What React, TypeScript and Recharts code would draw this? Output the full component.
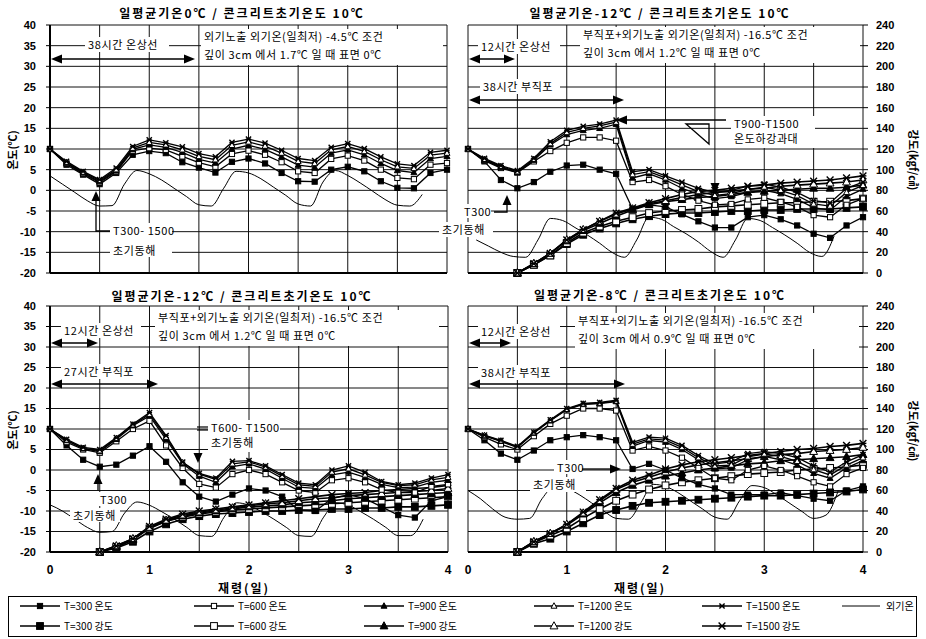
import React from 'react'
import { LineChart, Line, XAxis, YAxis, CartesianGrid } from 'recharts'

const FONT_KR = '"Noto Sans CJK KR", "Noto Sans", sans-serif'
const FONT_NUM = '"Liberation Sans", Arial, sans-serif'

// x positions (hours of age)
const HOURS = [0, 4, 8, 12, 16, 20, 24, 28, 32, 36, 40, 44, 48, 52, 56, 60, 64, 68, 72, 76, 80, 84, 88, 92, 96]
const STR_HOURS = [12, 16, 20, 24, 28, 32, 36, 40, 44, 48, 52, 56, 60, 64, 68, 72, 76, 80, 84, 88, 92, 96]
const AIR_HOURS = [0, 3, 6, 9, 12, 15, 18, 21, 24, 27, 30, 33, 36, 39, 42, 45, 48, 51, 54, 57, 60, 63, 66, 69, 72, 75, 78, 81, 84, 87, 90]
const AIR_HOURS_TR = [2, 5, 8, 11, 14, 17, 20, 23, 26, 29, 32, 35, 38, 41, 44, 47, 50, 53, 56, 59, 62, 65, 68, 71, 74, 77, 80, 83, 86, 89]

const DAY_TICKS = [0, 0.5, 1, 1.5, 2, 2.5, 3, 3.5, 4]
const TEMP_TICKS = [-20, -15, -10, -5, 0, 5, 10, 15, 20, 25, 30, 35, 40]
const STR_TICKS = [0, 20, 40, 60, 80, 100, 120, 140, 160, 180, 200, 220, 240]

// top-left: 일평균기온 0℃ (temperature, ℃)
const TL_T300 = [10, 6.2, 3.8, 1.5, 4.2, 8.6, 9.5, 9.0, 6.8, 5.5, 4.3, 6.9, 7.7, 6.5, 4.2, 2.2, 2.1, 5.0, 5.7, 4.6, 2.2, 0.6, 0.5, 4.2, 5.0]
const TL_T600 = [10, 6.5, 4.0, 1.9, 4.5, 9.6, 10.2, 9.8, 8.2, 6.7, 5.7, 8.8, 9.6, 8.6, 6.8, 4.6, 4.2, 7.6, 8.4, 7.2, 5.0, 3.0, 2.7, 6.2, 6.6]
const TL_T900 = [10, 6.6, 4.2, 2.1, 4.7, 9.9, 11.0, 10.4, 9.2, 7.5, 6.6, 10.0, 10.9, 9.9, 8.1, 6.1, 5.6, 9.0, 9.8, 8.6, 6.5, 4.8, 4.3, 7.7, 8.2]
const TL_T1200 = [10, 6.8, 4.4, 2.4, 5.0, 10.2, 11.6, 11.0, 9.8, 8.2, 7.4, 10.9, 11.7, 10.7, 9.0, 7.0, 6.5, 9.8, 10.6, 9.4, 7.4, 5.7, 5.3, 8.5, 9.0]
const TL_T1500 = [10, 7.0, 4.6, 2.6, 5.4, 10.6, 12.2, 11.5, 10.5, 8.9, 8.1, 11.6, 12.4, 11.4, 9.7, 7.7, 7.2, 10.4, 11.3, 10.1, 8.1, 6.4, 6.0, 9.2, 9.7]
const TL_AIR = [3.5, 1.5, -0.5, -2.5, -3.8, -3.7, 1.5, 4.8, 4.0, 2.5, 0.5, -1.5, -3.5, -3.8, 0.5, 4.6, 4.2, 2.8, 0.8, -1.2, -3.3, -3.8, 2.0, 4.8, 3.6, 1.8, -0.2, -2.2, -3.6, -3.8, -1.0]

// top-right: 일평균기온 -12℃
const TR_T300 = [10, 7.0, 2.5, 0.5, 2.0, 4.5, 6.0, 6.2, 5.0, 4.0, -4.5, -3.5, -4.0, -5.8, -7.5, -9.0, -9.0, -6.5, -6.0, -7.0, -8.5, -10.5, -11.5, -8.5, -6.5]
const TR_T600 = [10, 7.2, 5.4, 4.3, 7.0, 9.5, 11.5, 12.8, 12.8, 12.0, 2.0, 2.5, 1.0, -1.0, -2.5, -3.5, -3.3, -2.2, -1.8, -2.8, -4.0, -6.0, -6.5, -3.5, -2.0]
const TR_T900 = [10, 7.3, 5.6, 4.3, 7.3, 11.0, 13.5, 14.5, 15.0, 16.0, 3.0, 4.0, 2.5, 0.5, -1.0, -2.0, -1.5, -0.5, 0, -0.8, -2.2, -4.2, -4.8, -1.5, 0.3]
const TR_T1200 = [10, 7.5, 5.8, 4.5, 7.5, 11.3, 14.0, 15.0, 15.6, 16.5, 3.8, 4.5, 3.0, 1.3, -0.3, -1.2, -0.8, 0.2, 0.8, 0, -1.3, -3.3, -3.8, -0.5, 1.2]
const TR_T1500 = [10, 7.75, 6, 4.75, 7.75, 11.75, 14.5, 15.5, 16, 17, 4.5, 5, 3.5, 2, 0.5, -0.5, 0, 1, 1.5, 0.75, -0.5, -2.5, -3, 0.5, 2]
const TR_S300 = [0, 8, 17, 28, 37, 43, 48, 52, 55, 57, 58, 58, 59, 60, 60, 61, 61, 62, 62, 62, 63, 64]
const TR_S600 = [0, 8, 17, 29, 39, 45, 50, 54, 58, 60, 61, 62, 64, 65, 66, 67, 68, 68, 69, 69, 70, 72]
const TR_S900 = [0, 9, 19, 31, 41, 48, 55, 61, 66, 69, 71, 73, 74, 76, 78, 79, 80, 81, 82, 82, 83, 85]
const TR_S1200 = [0, 9, 19, 32, 42, 50, 57, 62, 67, 70, 73, 76, 78, 79, 81, 82, 84, 85, 86, 87, 88, 90]
const TR_S1500 = [0, 9, 19, 32, 42, 50, 58, 63, 68, 72, 76, 79, 80, 82, 84, 85, 87, 88, 89, 90, 92, 94]
const TR_AIR = [-12, -13.5, -15, -16, -16.2, -12, -6.8, -7.3, -9, -10.8, -12.8, -15, -16.2, -12, -6.5, -7, -8.8, -10.5, -12.5, -14.8, -16.2, -12, -6.8, -7.3, -9, -10.8, -12.8, -15, -16, -11]

// bottom-left: 일평균기온 -12℃, 27시간 부직포
const BL_T300 = [10, 6, 2.5, 0.8, 1.3, 3.5, 5.8, 2.0, -3.0, -6.5, -7.7, -6.0, -4.5, -5.0, -6.5, -9.8, -10.0, -7.0, -6.0, -7.0, -9.0, -11.0, -11.6, -7.5, -6.5]
const BL_T600 = [10, 6.8, 5.0, 4.2, 7.0, 10.0, 12.0, 6.0, 0.5, -3.4, -4.3, -1.0, 0, -1.0, -3.0, -5.0, -5.5, -2.5, -2.0, -3.0, -4.8, -5.5, -5.5, -4.0, -3.5]
const BL_T900 = [10, 7.2, 5.2, 4.5, 7.5, 10.8, 13.2, 7.5, 1.5, -1.5, -3.0, 0.8, 1.5, 0.2, -2.0, -4.2, -4.5, -1.2, -0.5, -1.8, -3.5, -4.3, -4.2, -3.0, -2.5]
const BL_T1200 = [10, 7.3, 5.3, 4.7, 7.7, 11.0, 13.6, 8.0, 1.8, -1.0, -2.3, 1.5, 2.0, 0.7, -1.5, -3.6, -4.0, -0.5, 0.3, -1.2, -3.0, -3.8, -3.6, -2.4, -1.8]
const BL_T1500 = [10, 7.5, 5.5, 5.0, 7.9, 11.2, 14.0, 8.4, 1.9, -0.8, -2.0, 2.1, 2.3, 1.0, -1.1, -3.2, -3.6, 0, 1.0, -0.6, -2.8, -3.6, -3.2, -2.0, -1.1]
const BL_S300 = [0, 4, 10, 20, 27, 32, 35, 37, 38, 39, 40, 40, 41, 41, 42, 42, 43, 43, 44, 44, 45, 46]
const BL_S600 = [0, 5, 12, 23, 30, 34, 37, 39, 41, 42, 43, 44, 45, 46, 47, 48, 49, 50, 51, 52, 53, 54]
const BL_S900 = [0, 5, 12, 24, 30, 35, 38, 40, 42, 44, 45, 46, 48, 49, 50, 52, 53, 54, 55, 56, 57, 58]
const BL_S1200 = [0, 6, 13, 24, 31, 36, 39, 41, 43, 45, 47, 48, 50, 52, 53, 55, 56, 57, 58, 59, 60, 62]
const BL_S1500 = [0, 6, 13, 25, 32, 37, 40, 42, 44, 46, 48, 50, 52, 54, 56, 57, 58, 60, 61, 62, 63, 65]
const BL_AIR = [-8.5, -10, -12, -14, -15.2, -15, -10.5, -7.8, -8.6, -10.2, -12, -14, -16, -16.2, -11.5, -8, -8.6, -10.2, -12, -14, -16, -16.2, -11.5, -8, -8.6, -10.2, -12, -14, -16, -16, -12]

// bottom-right: 일평균기온 -8℃
const BR_T300 = [10, 7.25, 4, 2.5, 4.75, 7.25, 8, 8.5, 8, 7.25, 0.25, 1.5, 0, -2, -3.5, -4.5, -6, -6, -6, -5.5, -6.25, -7, -7.5, -5, -4]
const BR_T600 = [10, 8, 6.25, 5, 8.25, 11.25, 13.25, 15, 15, 14.5, 4.75, 5.75, 4.75, 3, 0.5, -2, -2.5, 0, 1, 0, -1.5, -3, -4, -1, 0.5]
const BR_T900 = [10, 8.3, 7, 5.5, 9, 12, 14.7, 16, 16.2, 16.7, 5.8, 7.2, 6.8, 5, 2.5, 0.3, 0.5, 2.5, 3.3, 2.5, 1.2, -0.8, -2, 0.5, 2.3]
const BR_T1200 = [10, 8.4, 7.1, 5.6, 9.1, 12.1, 14.8, 16.1, 16.3, 16.8, 6.3, 7.6, 7.3, 5.5, 3, 1, 1.2, 3.2, 3.9, 3.3, 2.1, 0.1, -1.2, 1.2, 3]
const BR_T1500 = [10, 8.5, 7.25, 5.75, 9.25, 12.25, 15, 16.25, 16.5, 17, 6.75, 8, 7.75, 6, 3.5, 1.5, 2, 4, 4.5, 4, 3, 1, -0.5, 2, 3.75]
const BR_S300 = [0, 8, 13, 20, 28, 36, 41, 45, 48, 49, 50, 51, 52, 53, 54, 55, 55, 56, 57, 58, 59, 61]
const BR_S600 = [0, 9, 16, 23, 33, 42, 50, 56, 61, 65, 68, 70, 72, 74, 76, 77, 78, 80, 81, 82, 83, 85]
const BR_S900 = [0, 10, 18, 26, 37, 48, 58, 65, 70, 74, 77, 80, 82, 84, 86, 87, 89, 90, 91, 92, 93, 95]
const BR_S1200 = [0, 10, 18, 27, 38, 50, 61, 68, 73, 78, 82, 85, 87, 89, 91, 93, 95, 96, 98, 99, 100, 102]
const BR_S1500 = [0, 10, 18, 27, 39, 51, 62, 70, 75, 81, 85, 88, 90, 92, 94, 96, 98, 100, 101, 103, 104, 106]
const BR_AIR = [-5, -7, -9.5, -11.5, -12, -11.8, -7, -4, -4.5, -6, -8, -10, -11.8, -12, -8, -3.5, -4, -5.5, -7.5, -9.5, -11.5, -12, -7.5, -3.8, -4.3, -6, -8, -10, -11.8, -11, -5]

const SHAPES = ['sq', 'sqo', 'tri', 'trio', 'star']
const TEMP_NAMES = ['T=300 온도', 'T=600 온도', 'T=900 온도', 'T=1200 온도', 'T=1500 온도']
const STR_NAMES = ['T=300 강도', 'T=600 강도', 'T=900 강도', 'T=1200 강도', 'T=1500 강도']

const toRows = (hours: number[], values: number[]) => hours.map((h, i) => ({ d: h / 24, v: values[i] }))

const Mark = ({ cx, cy, shape, r }: { cx?: number, cy?: number, shape: string, r: number }) => {
    if (cx == null || cy == null || isNaN(cx) || isNaN(cy)) return null
    if (shape === 'sq' || shape === 'sqo') {
        return <rect x={cx - r} y={cy - r} width={r * 2} height={r * 2} fill={shape === 'sq' ? '#000' : '#fff'} stroke="#000" strokeWidth={1} />
    }
    if (shape === 'tri' || shape === 'trio') {
        const pts = `${cx},${cy - r * 1.25} ${cx - r * 1.15},${cy + r * 0.85} ${cx + r * 1.15},${cy + r * 0.85}`
        return <polygon points={pts} fill={shape === 'tri' ? '#000' : '#fff'} stroke="#000" strokeWidth={1} />
    }
    return (
        <g stroke="#000" strokeWidth={1.4}>
            <line x1={cx - r} y1={cy - r} x2={cx + r} y2={cy + r} />
            <line x1={cx + r} y1={cy - r} x2={cx - r} y2={cy + r} />
            <line x1={cx - r} y1={cy} x2={cx + r} y2={cy} />
        </g>
    )
}

const tickStyle = { fontSize: 11, fontWeight: 700, fill: '#000', fontFamily: FONT_NUM }
const axisLine = { stroke: '#000', strokeWidth: 2 }

type PanelProps = {
    pos: { left: number, top: number, width: number, height: number }
    margin: { top: number, left: number, right: number, bottom: number }
    side: 'left' | 'right'
    bottom: boolean
    temps: number[][]
    strs?: number[][]
    air: number[]
    airHours: number[]
    id: string
}

const Panel = ({ pos, margin, side, bottom, temps, strs, air, airHours, id }: PanelProps) => (
    <div style={{ position: 'absolute', left: pos.left, top: pos.top }}>
        <LineChart width={pos.width} height={pos.height} margin={margin}>
            <CartesianGrid yAxisId={side === 'left' ? 't' : 's'} stroke="#111" strokeWidth={1} />
            <XAxis
                type="number" dataKey="d" domain={[0, 4]} ticks={DAY_TICKS} interval={0}
                height={bottom ? 30 : 17} tickLine={false} tickMargin={7}
                tick={{ ...tickStyle, fontSize: 12 }} axisLine={axisLine}
                tickFormatter={(v: number) => (bottom && Number.isInteger(v) ? String(v) : '')}
            />
            {side === 'left' ? (
                <YAxis
                    yAxisId="t" orientation="left" domain={[-20, 40]} ticks={TEMP_TICKS} interval={0}
                    width={40} tick={tickStyle} tickSize={4} tickMargin={10}
                    tickLine={{ stroke: '#000' }} axisLine={axisLine}
                />
            ) : (
                <YAxis yAxisId="t" orientation="left" domain={[-20, 40]} width={0} tick={false} axisLine={axisLine} />
            )}
            {side === 'right' ? (
                <YAxis
                    yAxisId="s" orientation="right" domain={[0, 240]} ticks={STR_TICKS} interval={0}
                    width={45} tick={tickStyle} tickSize={5} tickMargin={8}
                    tickLine={{ stroke: '#000' }} axisLine={false}
                />
            ) : (
                <YAxis yAxisId="s" orientation="right" domain={[0, 240]} hide />
            )}
            <Line
                yAxisId="t" data={toRows(airHours, air)} dataKey="v" type="monotone"
                stroke="#000" strokeWidth={1} dot={false} isAnimationActive={false}
            />
            {(strs ?? []).map((s, k) => (
                <Line
                    key={`${id}-s${k}`} yAxisId="s" data={toRows(STR_HOURS, s)} dataKey="v" type="linear"
                    stroke="#000" strokeWidth={1.6} isAnimationActive={false} name={STR_NAMES[k]}
                    dot={(p: any) => <Mark key={`${id}-s${k}-${p.index}`} cx={p.cx} cy={p.cy} shape={SHAPES[k]} r={3.4} />}
                />
            ))}
            {temps.map((t, k) => (
                <Line
                    key={`${id}-t${k}`} yAxisId="t" data={toRows(HOURS, t)} dataKey="v" type="linear"
                    stroke="#000" strokeWidth={1.3} isAnimationActive={false} name={TEMP_NAMES[k]}
                    dot={(p: any) => <Mark key={`${id}-t${k}-${p.index}`} cx={p.cx} cy={p.cy} shape={SHAPES[k]} r={2.6} />}
                />
            ))}
        </LineChart>
    </div>
)

const Arrow2 = ({ x1, x2, y }: { x1: number, x2: number, y: number }) => (
    <g>
        <line x1={x1 + 6} x2={x2 - 6} y1={y} y2={y} stroke="#000" strokeWidth={1.5} />
        <polygon points={`${x1},${y} ${x1 + 11},${y - 4.5} ${x1 + 11},${y + 4.5}`} fill="#000" />
        <polygon points={`${x2},${y} ${x2 - 11},${y - 4.5} ${x2 - 11},${y + 4.5}`} fill="#000" />
    </g>
)

const Head = ({ x, y, dir }: { x: number, y: number, dir: 'up' | 'down' | 'left' | 'right' }) => {
    const p = {
        up: `${x},${y} ${x - 4.5},${y + 10} ${x + 4.5},${y + 10}`,
        down: `${x},${y} ${x - 4.5},${y - 10} ${x + 4.5},${y - 10}`,
        left: `${x},${y} ${x + 11},${y - 4.5} ${x + 11},${y + 4.5}`,
        right: `${x},${y} ${x - 11},${y - 4.5} ${x - 11},${y + 4.5}`,
    }[dir]
    return <polygon points={p} fill="#000" />
}

const Note = ({ x, y, lines, w, h, gap = 18, size = 11 }: { x: number, y: number, lines: string[], w: number, h: number, gap?: number, size?: number }) => (
    <g>
        <rect x={x - 3} y={y - size - 1} width={w} height={h} fill="#fff" />
        {lines.map((l, i) => (
            <text key={i} x={x} y={y + i * gap} fontSize={size} fontFamily={FONT_KR} fill="#000" letterSpacing={0.6}>{l}</text>
        ))}
    </g>
)

const Title = ({ x, y, text }: { x: number, y: number, text: string }) => (
    <text x={x} y={y} textAnchor="middle" fontSize={12} fontWeight={700} fontFamily={FONT_KR} letterSpacing={2}>{text}</text>
)

const LEGEND_X = [20, 194, 364, 534, 702]

const Overlay = () => (
    <svg width={926} height={639} style={{ position: 'absolute', left: 0, top: 0 }}>
        <Title x={242} y={18} text="일평균기온0℃ / 콘크리트초기온도 10℃" />
        <Title x={660} y={18} text="일평균기온-12℃ / 콘크리트초기온도 10℃" />
        <Title x={242} y={301} text="일평균기온-12℃ / 콘크리트초기온도 10℃" />
        <Title x={660} y={300} text="일평균기온-8℃ / 콘크리트초기온도 10℃" />

        <text transform="rotate(-90 14 150)" x={14} y={150} textAnchor="middle" dominantBaseline="middle" fontSize={11} fontWeight={700} fontFamily={FONT_KR}>온도(℃)</text>
        <text transform="rotate(-90 14 430)" x={14} y={430} textAnchor="middle" dominantBaseline="middle" fontSize={11} fontWeight={700} fontFamily={FONT_KR}>온도(℃)</text>
        <text transform="rotate(90 912 160)" x={912} y={160} textAnchor="middle" dominantBaseline="middle" fontSize={11} fontWeight={700} fontFamily={FONT_KR}>강도(kgf/㎠)</text>
        <text transform="rotate(90 912 431)" x={912} y={431} textAnchor="middle" dominantBaseline="middle" fontSize={11} fontWeight={700} fontFamily={FONT_KR}>강도(kgf/㎠)</text>
        <text x={244} y={593} textAnchor="middle" fontSize={12} fontWeight={700} fontFamily={FONT_KR} letterSpacing={2}>재령(일)</text>
        <text x={640} y={593} textAnchor="middle" fontSize={12} fontWeight={700} fontFamily={FONT_KR} letterSpacing={2}>재령(일)</text>

        {/* top-left */}
        <Note x={88} y={49} lines={['38시간 온상선']} w={84} h={15} />
        <Arrow2 x1={51} x2={195} y={59} />
        <Note x={204} y={41} lines={['외기노출 외기온(일최저) -4.5℃ 조건', '깊이 3cm 에서 1.7℃ 일 때 표면 0℃']} w={242} h={36} />
        <Head x={96} y={191} dir="up" />
        <polyline points="96,200 96,231 111,231" fill="none" stroke="#000" strokeWidth={1.3} />
        <Note x={113} y={235} lines={['T300- 1500', '초기동해']} w={62} h={34} gap={20} />

        {/* top-right */}
        <Note x={481} y={51} lines={['12시간 온상선']} w={82} h={15} />
        <Arrow2 x1={469} x2={515} y={59} />
        <Note x={483} y={91} lines={['38시간 부직포']} w={80} h={15} />
        <Arrow2 x1={469} x2={624} y={100} />
        <Note x={583} y={39} lines={['부직포+외기노출 외기온(일최저) -16.5℃ 조건', '깊이 3cm 에서 1.2℃ 일 때 표면 0℃']} w={280} h={36} />
        <line x1={626} y1={120} x2={726} y2={120} stroke="#000" strokeWidth={1.3} />
        <Head x={616} y={120} dir="left" />
        <polygon points="686,124 709,124 709,144" fill="none" stroke="#000" strokeWidth={1.3} />
        <Note x={734} y={128} lines={['T900-T1500', '온도하강과대']} w={84} h={32} gap={15} />
        <Head x={715} y={193} dir="down" />
        <Note x={464} y={216} lines={['T300']} w={30} h={14} />
        <polyline points="494,212 507,212 507,204" fill="none" stroke="#000" strokeWidth={1.3} />
        <Head x={507} y={195} dir="up" />
        <Note x={442} y={234} lines={['초기동해']} w={54} h={15} />

        {/* bottom-left */}
        <Note x={64} y={335} lines={['12시간 온상선']} w={80} h={15} />
        <Arrow2 x1={51} x2={98} y={343} />
        <Note x={64} y={376} lines={['27시간 부직포']} w={80} h={15} />
        <Arrow2 x1={51} x2={158} y={384} />
        <Note x={158} y={322} lines={['부직포+외기노출 외기온(일최저) -16.5℃ 조건', '깊이 3cm 에서 1.2℃ 일 때 표면 0℃']} w={284} h={36} />
        <line x1={197} y1={427} x2={209} y2={427} stroke="#000" strokeWidth={1.2} />
        <line x1={197} y1={430} x2={209} y2={430} stroke="#000" strokeWidth={1.2} />
        <Note x={211} y={432} lines={['T600- T1500', '초기동해']} w={72} h={32} gap={15} />
        <Head x={198} y={463} dir="down" />
        <Head x={98} y={474} dir="up" />
        <line x1={98} y1={483} x2={98} y2={490} stroke="#000" strokeWidth={1.3} />
        <Note x={100} y={504} lines={['T300']} w={26} h={14} />
        <Note x={73} y={520} lines={['초기동해']} w={50} h={14} />

        {/* bottom-right */}
        <Note x={481} y={336} lines={['12시간 온상선']} w={82} h={15} />
        <Arrow2 x1={469} x2={511} y={343} />
        <Note x={481} y={377} lines={['38시간 부직포']} w={82} h={15} />
        <Arrow2 x1={469} x2={625} y={384} />
        <Note x={578} y={325} lines={['부직포+외기노출 외기온(일최저) -16.5℃ 조건', '깊이 3cm 에서 0.9℃ 일 때 표면 0℃']} w={284} h={36} />
        <Note x={557} y={472} lines={['T300']} w={28} h={14} />
        <line x1={582} y1={469} x2={611} y2={469} stroke="#000" strokeWidth={1.3} />
        <Head x={621} y={469} dir="right" />
        <Note x={533} y={489} lines={['초기동해']} w={56} h={15} />

        {/* legend */}
        <rect x={8.5} y={596.5} width={908} height={40} fill="#fff" stroke="#000" strokeWidth={1} />
        {TEMP_NAMES.map((n, k) => (
            <g key={`lt${k}`}>
                <line x1={LEGEND_X[k]} x2={LEGEND_X[k] + 40} y1={606} y2={606} stroke="#000" strokeWidth={1.3} />
                <Mark cx={LEGEND_X[k] + 20} cy={606} shape={SHAPES[k]} r={2.6} />
                <text x={LEGEND_X[k] + 44} y={610} fontSize={10} fontFamily={FONT_KR}>{n}</text>
            </g>
        ))}
        <line x1={842} x2={880} y1={606} y2={606} stroke="#000" strokeWidth={1} />
        <text x={886} y={610} fontSize={10} fontFamily={FONT_KR}>외기온</text>
        {STR_NAMES.map((n, k) => (
            <g key={`ls${k}`}>
                <line x1={LEGEND_X[k]} x2={LEGEND_X[k] + 40} y1={626} y2={626} stroke="#000" strokeWidth={1.6} />
                <Mark cx={LEGEND_X[k] + 20} cy={626} shape={SHAPES[k]} r={3.4} />
                <text x={LEGEND_X[k] + 44} y={630} fontSize={10} fontFamily={FONT_KR}>{n}</text>
            </g>
        ))}
    </svg>
)

const App = () => (
    <div style={{ position: 'absolute', left: 0, top: 0, width: 926, height: 639, background: '#fff', overflow: 'hidden' }}>
        <Panel
            id="tl" side="left" bottom={false}
            pos={{ left: 0, top: 0, width: 460, height: 290 }}
            margin={{ top: 25, left: 10, right: 13, bottom: 0 }}
            temps={[TL_T300, TL_T600, TL_T900, TL_T1200, TL_T1500]}
            air={TL_AIR} airHours={AIR_HOURS}
        />
        <Panel
            id="tr" side="right" bottom={false}
            pos={{ left: 456, top: 0, width: 470, height: 290 }}
            margin={{ top: 25, left: 12, right: 18, bottom: 0 }}
            temps={[TR_T300, TR_T600, TR_T900, TR_T1200, TR_T1500]}
            strs={[TR_S300, TR_S600, TR_S900, TR_S1200, TR_S1500]}
            air={TR_AIR} airHours={AIR_HOURS_TR}
        />
        <Panel
            id="bl" side="left" bottom
            pos={{ left: 0, top: 290, width: 460, height: 310 }}
            margin={{ top: 16, left: 10, right: 12, bottom: 18 }}
            temps={[BL_T300, BL_T600, BL_T900, BL_T1200, BL_T1500]}
            strs={[BL_S300, BL_S600, BL_S900, BL_S1200, BL_S1500]}
            air={BL_AIR} airHours={AIR_HOURS}
        />
        <Panel
            id="br" side="right" bottom
            pos={{ left: 456, top: 290, width: 470, height: 310 }}
            margin={{ top: 16, left: 12, right: 18, bottom: 18 }}
            temps={[BR_T300, BR_T600, BR_T900, BR_T1200, BR_T1500]}
            strs={[BR_S300, BR_S600, BR_S900, BR_S1200, BR_S1500]}
            air={BR_AIR} airHours={AIR_HOURS}
        />
        <Overlay />
    </div>
)

export default App
